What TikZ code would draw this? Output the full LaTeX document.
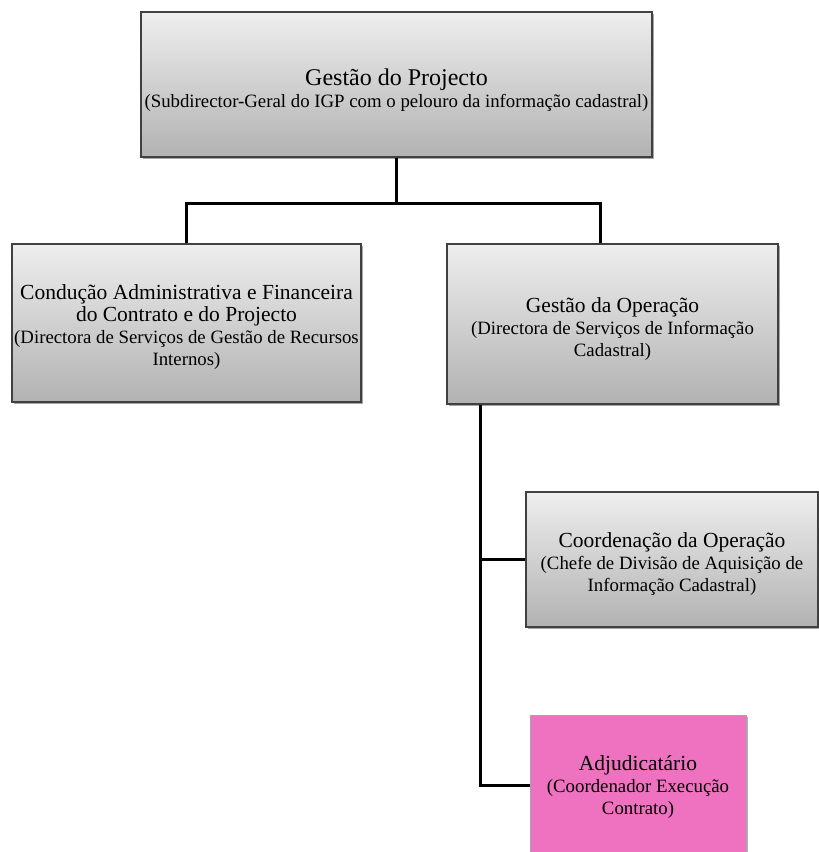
\documentclass[tikz,border=0pt]{standalone}
\usepackage{fontspec}
\setmainfont{Liberation Serif}
\newfontfamily\boxserif{Liberation Serif}
\usetikzlibrary{shadows,calc}

\definecolor{boxtop}{RGB}{238,238,238}
\definecolor{boxbot}{RGB}{178,178,178}
\definecolor{boxline}{RGB}{64,64,64}
\definecolor{pinkfill}{RGB}{239,114,192}

% heading line of a box, and the larger heading of the top box
\newcommand\boxtitle[1]{{\boxserif\fontsize{21.5}{22}\selectfont #1}}
\newcommand\bigtitle[1]{{\boxserif\fontsize{24}{22}\selectfont #1}}
% invisible strut that lowers a box's text block a little
\newcommand\lowerby[1]{\rule{0pt}{#1}}

\tikzset{
  orgbox/.style={rectangle, draw=boxline, line width=1.2pt,
    top color=boxtop, bottom color=boxbot,
    drop shadow={shadow xshift=2pt, shadow yshift=-2pt, opacity=0.35, fill=black},
    align=center, inner sep=0pt,
    font=\boxserif\fontsize{18.8}{22}\selectfont},
  pinkbox/.style={rectangle, draw=gray!70, line width=0.6pt, fill=pinkfill,
    drop shadow={shadow xshift=2pt, shadow yshift=-2pt, opacity=0.3, fill=black},
    align=center, inner sep=0pt,
    font=\boxserif\fontsize{18.8}{22}\selectfont},
  link/.style={line width=3pt, draw=black}
}

\begin{document}
\begin{tikzpicture}[x=1pt,y=-1pt]
\useasboundingbox (0,0) rectangle (819,852);
\clip (0,0) rectangle (819,852);
\fill[white] (0,0) rectangle (819,852);

% boxes
\node[orgbox, minimum width=511pt, minimum height=145pt] (top) at (396.5,84.5)
  {\lowerby{28pt}\bigtitle{Gestão do Projecto}\\(Subdirector-Geral do IGP com o pelouro da informação cadastral)};
\node[orgbox, minimum width=349pt, minimum height=158pt] (adm) at (186.5,323)
  {\lowerby{23pt}\boxtitle{Condução Administrativa e Financeira}\\\boxtitle{do Contrato e do Projecto}\\(Directora de Serviços de Gestão de Recursos\\Internos)};
\node[orgbox, minimum width=331pt, minimum height=160pt] (op) at (612.5,324)
  {\lowerby{24.5pt}\boxtitle{Gestão da Operação}\\(Directora de Serviços de Informação\\Cadastral)};
\node[orgbox, minimum width=292pt, minimum height=135pt] (coord) at (672,559.5)
  {\lowerby{24.5pt}\boxtitle{Coordenação da Operação}\\(Chefe de Divisão de Aquisição de\\Informação Cadastral)};
\node[pinkbox, minimum width=216pt, minimum height=140pt] (adj) at (638,785)
  {\lowerby{19pt}\boxtitle{Adjudicatário}\\(Coordenador Execução\\Contrato)};

% connectors
\coordinate (bus) at ($(top.south)+(0,46)$);
\draw[link] (top.south) -- (bus);
\draw[link] (adm.north) |- (bus);
\draw[link] ($(op.north west)!0.465!(op.north east)$) |- (bus);
\coordinate (trunk) at ($(op.south west)+(34,0)$);
\draw[link] (trunk) |- (coord.west);
\draw[link] (trunk) |- (adj.west);
\end{tikzpicture}
\end{document}
